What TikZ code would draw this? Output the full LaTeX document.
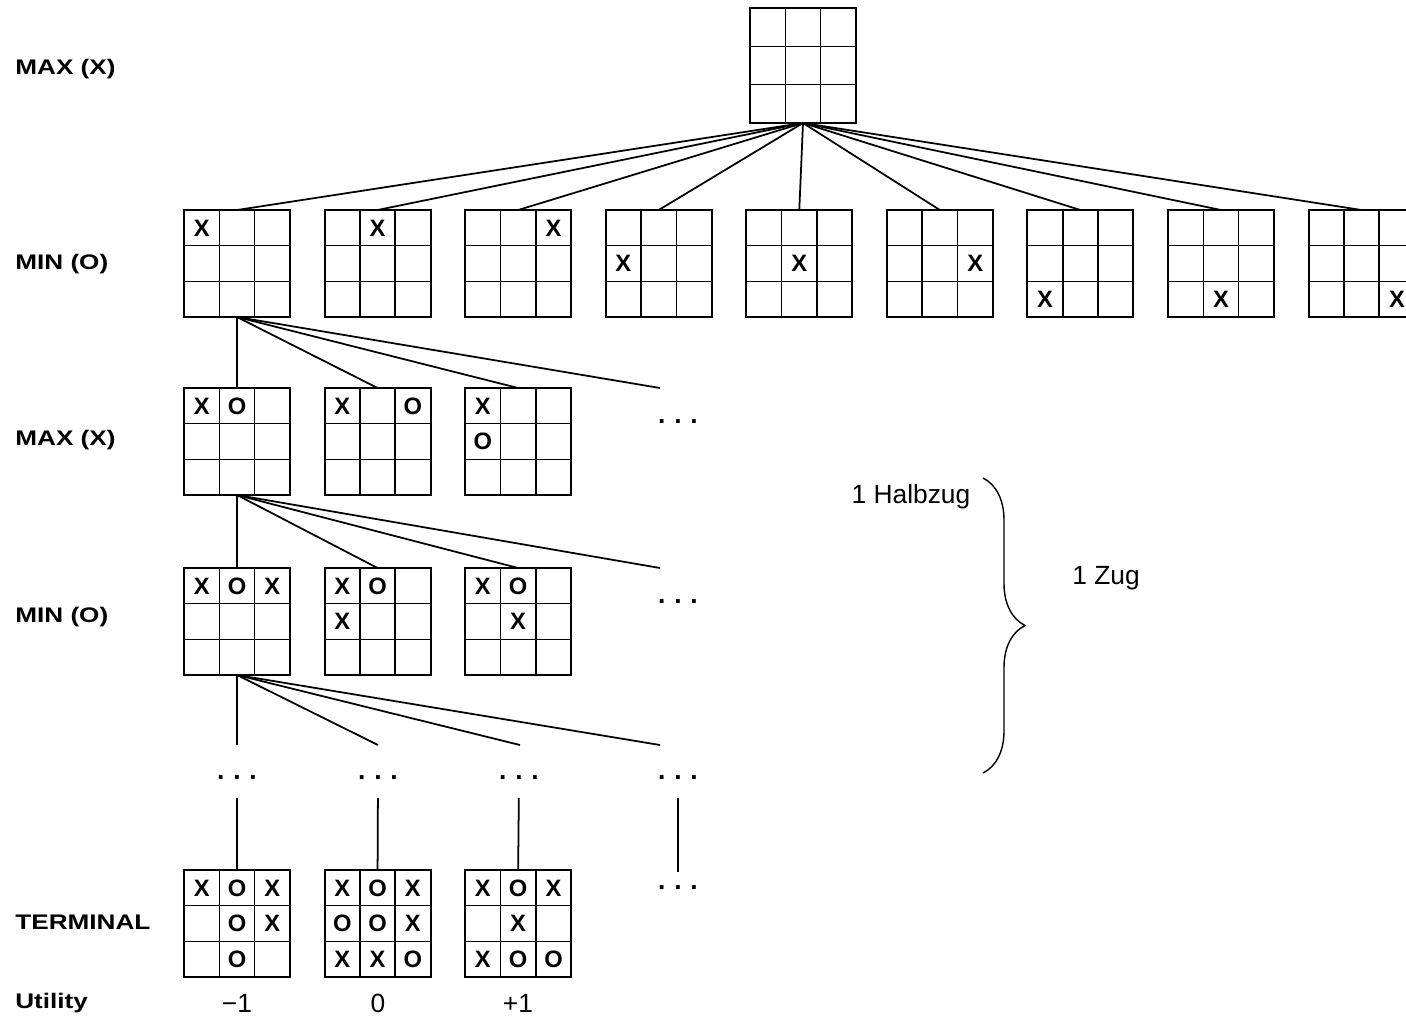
\documentclass[tikz,border=0pt]{standalone}
\usepackage{fontspec}
\setmainfont{Liberation Sans}
\newfontfamily\widefont[FakeStretch=1.24]{Liberation Sans}
\usetikzlibrary{positioning,calc,decorations.pathreplacing}
\tikzset{
  board/.style   ={draw, line width=1.1pt, minimum width=2.12cm, minimum height=2.14cm, inner sep=0pt, outer sep=0pt},
  cellline/.style={line width=0.9pt},
  sym/.style     ={font=\fontsize{13.5}{13.5}\selectfont\bfseries, inner sep=0pt},
  level/.style   ={anchor=west, font=\widefont\fontsize{12}{14}\selectfont\bfseries, inner sep=0pt},
  link/.style    ={line width=1pt},
  dots/.style    ={font=\fontsize{15}{15}\selectfont\bfseries, inner sep=0pt},
  note/.style    ={font=\fontsize{15}{17}\selectfont, inner sep=0pt},
  util/.style    ={font=\fontsize{15}{15}\selectfont, inner sep=0pt},
}
% inner lines of a 3x3 board, then its marks as row/col/symbol
\newcommand{\tttgrid}[2]{%
  \foreach \k in {1,2} {
    \draw[cellline] ($(#1.north west)!\k/3!(#1.north east)$) -- ($(#1.south west)!\k/3!(#1.south east)$);
    \draw[cellline] ($(#1.north west)!\k/3!(#1.south west)$) -- ($(#1.north east)!\k/3!(#1.south east)$);
  }
  \foreach \r/\c/\s in {#2} {
    \path ($(#1.north west)!{(\c-0.5)/3}!(#1.north east)$) coordinate (cx)
          ($(#1.north west)!{(\r-0.5)/3}!(#1.south west)$) coordinate (cy);
    \node[sym] at (cx |- cy) {\s};
  }
}

\begin{document}
\begin{tikzpicture}[x=0.02cm, y=-0.02cm]
  \useasboundingbox (0,0) rectangle (1406,1019);
  \clip (0,0) rectangle (1406,1019);

  % player levels
  \node[level] (l1) at (15,69)   {MAX (X)};
  \node[level] (l2) at (15,264)  {MIN (O)};
  \node[level] (l3) at (15,440)  {MAX (X)};
  \node[level] (l4) at (15,617)  {MIN (O)};
  \node[level] (l5) at (15,922)  {TERMINAL};
  \node[level] (l6) at (15,1003) {Utility};

  % empty board
  \node[board, minimum height=2.3cm] (root) at (803,65.5) {};
  \tttgrid{root}{}

  % first move of X
  \node[board] (n1) at (237,263.5) {};
  \node[board, right=0.692cm of n1] (n2) {};
  \node[board, right=0.692cm of n2] (n3) {};
  \node[board, right=0.692cm of n3] (n4) {};
  \node[board, right=0.692cm of n4] (n5) {};
  \node[board, right=0.692cm of n5] (n6) {};
  \node[board, right=0.692cm of n6] (n7) {};
  \node[board, right=0.692cm of n7] (n8) {};
  \node[board, right=0.692cm of n8] (n9) {};
  \tttgrid{n1}{1/1/X}
  \tttgrid{n2}{1/2/X}
  \tttgrid{n3}{1/3/X}
  \tttgrid{n4}{2/1/X}
  \tttgrid{n5}{2/2/X}
  \tttgrid{n6}{2/3/X}
  \tttgrid{n7}{3/1/X}
  \tttgrid{n8}{3/2/X}
  \tttgrid{n9}{3/3/X}
  \foreach \i in {1,...,9} \draw[link] (root.south) -- (n\i.north);

  % answers of O
  \node[board] (m1) at (237,441.5) {};
  \node[board, right=0.692cm of m1] (m2) {};
  \node[board, right=0.692cm of m2] (m3) {};
  \coordinate (m4) at (660,388);
  \node[dots] (md) at (678,422) {.\hspace{5pt}.\hspace{5pt}.};
  \tttgrid{m1}{1/1/X, 1/2/O}
  \tttgrid{m2}{1/1/X, 1/3/O}
  \tttgrid{m3}{1/1/X, 2/1/O}
  \foreach \n in {m1,m2,m3} \draw[link] (n1.south) -- (\n.north);
  \draw[link] (n1.south) -- (m4);

  % second move of X
  \node[board] (o1) at (237,621.5) {};
  \node[board, right=0.692cm of o1] (o2) {};
  \node[board, right=0.692cm of o2] (o3) {};
  \coordinate (o4) at (660,568);
  \node[dots] (od) at (678,602) {.\hspace{5pt}.\hspace{5pt}.};
  \tttgrid{o1}{1/1/X, 1/2/O, 1/3/X}
  \tttgrid{o2}{1/1/X, 1/2/O, 2/1/X}
  \tttgrid{o3}{1/1/X, 1/2/O, 2/2/X}
  \foreach \n in {o1,o2,o3} \draw[link] (m1.south) -- (\n.north);
  \draw[link] (m1.south) -- (o4);

  % further moves
  \coordinate (e1) at (237,745);
  \coordinate (e2) at (378,745);
  \coordinate (e3) at (520,745);
  \coordinate (e4) at (660,745);
  \foreach \e in {e1,e2,e3,e4} \draw[link] (o1.south) -- (\e);
  \node[dots] (d1) at (237,778) {.\hspace{5pt}.\hspace{5pt}.};
  \node[dots] (d2) at (378,778) {.\hspace{5pt}.\hspace{5pt}.};
  \node[dots] (d3) at (519,778) {.\hspace{5pt}.\hspace{5pt}.};
  \node[dots] (d4) at (678,778) {.\hspace{5pt}.\hspace{5pt}.};

  % end positions
  \node[board] (t1) at (237,923.5) {};
  \node[board, right=0.692cm of t1] (t2) {};
  \node[board, right=0.692cm of t2] (t3) {};
  \node[dots] (td) at (678,888) {.\hspace{5pt}.\hspace{5pt}.};
  \tttgrid{t1}{1/1/X, 1/2/O, 1/3/X, 2/2/O, 2/3/X, 3/2/O}
  \tttgrid{t2}{1/1/X, 1/2/O, 1/3/X, 2/1/O, 2/2/O, 2/3/X, 3/1/X, 3/2/X, 3/3/O}
  \tttgrid{t3}{1/1/X, 1/2/O, 1/3/X, 2/2/X, 3/1/X, 3/2/O, 3/3/O}
  \foreach \a/\b in {d1/t1, d2/t2, d3/t3} \draw[link, shorten <=10pt] (\a.south) -- (\b.north);
  \draw[link, shorten <=10pt, shorten >=8pt] (d4.south) -- (td.north);

  \node[util] (u1) at (237,1003) {−1};
  \node[util] (u2) at (378,1003) {0};
  \node[util] (u3) at (518,1003) {+1};

  % ply vs. move
  \coordinate (bt) at (983,478);
  \coordinate (bb) at (983,773);
  \draw[line width=0.8pt, decorate, decoration={brace, amplitude=0.84cm}] (bt) -- (bb);
  \node[note] (hz) at (911,497) {1 Halbzug};
  \node[note] (zg) at (1106,578) {1 Zug};
\end{tikzpicture}
\end{document}
